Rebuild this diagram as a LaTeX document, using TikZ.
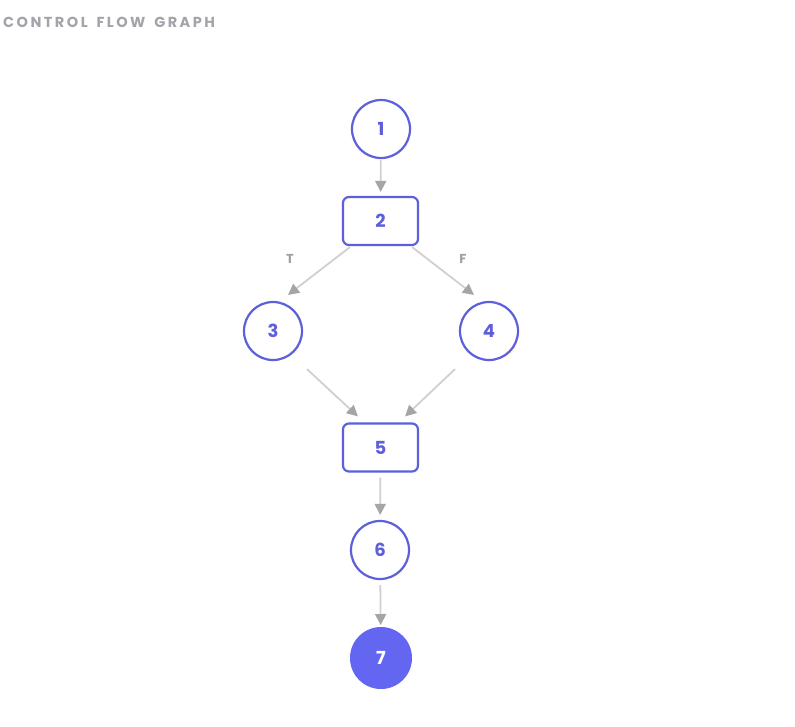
\documentclass[tikz,border=0pt]{standalone}
\usepackage{fontspec}
\setmainfont{Poppins}
\newfontfamily\titlefont[LetterSpace=17,WordSpace=1.6]{Poppins}
\usetikzlibrary{arrows.meta,calc}
\definecolor{nodeblue}{HTML}{5E5FDB}
\definecolor{nodefill}{HTML}{6366F1}
\definecolor{edgegray}{HTML}{D0D0D0}
\definecolor{tipgray}{HTML}{A5A5A5}
\definecolor{titlegray}{HTML}{A3A3AB}
\definecolor{labelgray}{HTML}{A0A0A0}
\tikzset{
  cnode/.style={circle,draw=nodeblue,line width=2.2pt,minimum size=58pt,inner sep=0pt,
    text=nodeblue,font=\fontsize{18}{18}\selectfont\bfseries},
  fnode/.style={circle,draw=nodefill,fill=nodefill,line width=1pt,minimum size=61pt,inner sep=0pt,
    text=white,font=\fontsize{18}{18}\selectfont\bfseries},
  bnode/.style={rectangle,rounded corners=6pt,draw=nodeblue,line width=2.2pt,minimum width=75pt,
    minimum height=48pt,inner sep=0pt,text=nodeblue,font=\fontsize{18}{18}\selectfont\bfseries},
  edge/.style={draw=edgegray,line width=1.8pt,-{Triangle[length=11pt,width=11pt,color=tipgray]}},
  lbl/.style={text=labelgray,font=\fontsize{13}{13}\selectfont\bfseries},
}
\begin{document}
\begin{tikzpicture}[x=1pt,y=-1pt]
\useasboundingbox[fill=white] (0,0) rectangle (795,726);
\node[anchor=west,inner sep=0pt,text=titlegray,font=\titlefont\fontsize{14.5}{14.5}\selectfont\bfseries] (title) at (3,22) {CONTROL FLOW GRAPH};
\node[cnode] (n1) at (381,129) {1};
\node[bnode] (n2) at (380.5,221) {2};
\node[cnode] (n3) at (273,331) {3};
\node[cnode] (n4) at (489,331) {4};
\node[bnode] (n5) at (380.5,447.5) {5};
\node[cnode] (n6) at (380,550) {6};
\node[fnode] (n7) at (381,658) {7};
\draw[edge,shorten <=1pt,shorten >=4pt] (n1) -- (n2);
\draw[edge] ($(n2.south west)+(8,1)$) -- ($(n3.north)+(15,-6)$);
\draw[edge] ($(n2.south east)+(-7,1)$) -- ($(n4.north)+(-15,-6)$);
\draw[edge] ($(n3.south)+(34,8)$) -- ($(n5.north west)+(16,-6)$);
\draw[edge] ($(n4.south)+(-34,8)$) -- ($(n5.north east)+(-14,-6)$);
\draw[edge,shorten <=5pt,shorten >=5pt] (n5) -- (n6);
\draw[edge,shorten <=5pt,shorten >=2pt] (n6) -- (n7);
\node[lbl] (lt) at (290,259) {T};
\node[lbl] (lf) at (463,259) {F};
\end{tikzpicture}
\end{document}
